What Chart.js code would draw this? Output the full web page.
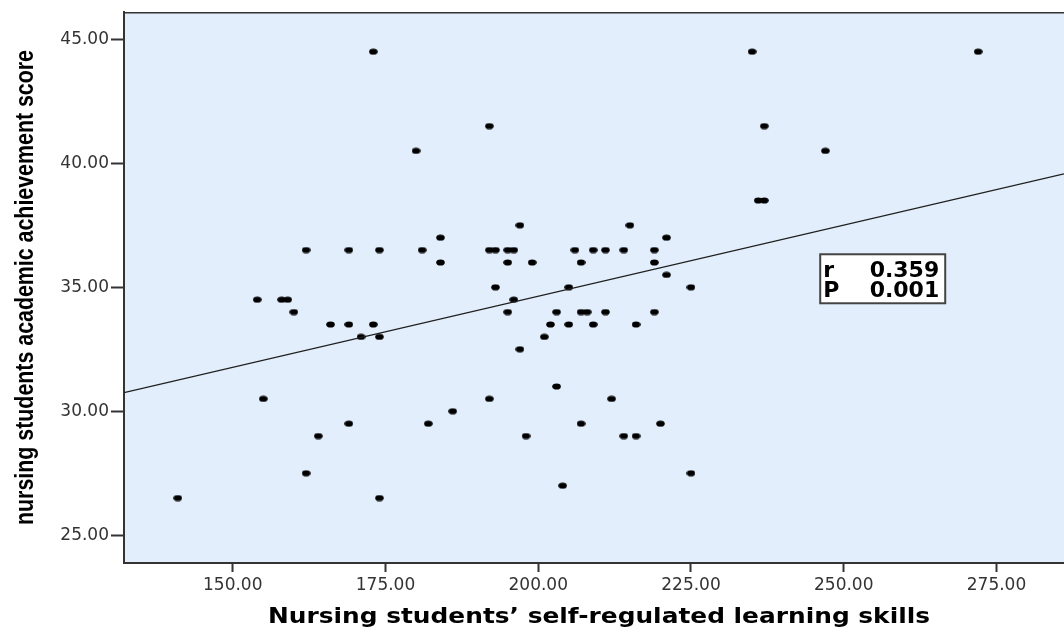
<!DOCTYPE html>
<html>
<head>
<meta charset="utf-8">
<script src="https://cdn.jsdelivr.net/npm/chart.js@4.4.1/dist/chart.umd.min.js"></script>
<style>
  html, body { margin: 0; padding: 0; background: #fff; }
  canvas { display: block; }
</style>
</head>
<body>
<canvas id="scatter" width="1064" height="630"></canvas>
<script>
// Self-regulated learning skills (x) vs academic achievement score (y)
const skillScores = [
  173, 235, 272, 192, 237, 180, 247, 236, 237, 197, 215, 184, 221,
  162, 169, 174, 181, 192, 193, 195, 196, 206, 209, 211, 214, 219,
  184, 195, 199, 207, 219,
  221,
  193, 205, 225,
  154, 158, 159, 196,
  160, 195, 203, 207, 208, 211, 219,
  166, 169, 173, 202, 205, 209, 216,
  171, 174, 201,
  197,
  203,
  155, 192, 212,
  186,
  169, 182, 207, 220,
  164, 198, 214, 216,
  162, 225,
  204,
  141, 174,
];
const achievementScores = [
  44.5, 44.5, 44.5, 41.5, 41.5, 40.5, 40.5, 38.5, 38.5, 37.5, 37.5, 37, 37,
  36.5, 36.5, 36.5, 36.5, 36.5, 36.5, 36.5, 36.5, 36.5, 36.5, 36.5, 36.5, 36.5,
  36, 36, 36, 36, 36,
  35.5,
  35, 35, 35,
  34.5, 34.5, 34.5, 34.5,
  34, 34, 34, 34, 34, 34, 34,
  33.5, 33.5, 33.5, 33.5, 33.5, 33.5, 33.5,
  33, 33, 33,
  32.5,
  31,
  30.5, 30.5, 30.5,
  30,
  29.5, 29.5, 29.5, 29.5,
  29, 29, 29, 29,
  27.5, 27.5,
  27,
  26.5, 26.5,
];

// fit line end points
const fitX = [132.2, 286.05];
const fitY = [30.75, 39.57];

const xTicks = [150, 175, 200, 225, 250, 275];
const yTicks = [25, 30, 35, 40, 45];

const xTitle = 'Nursing students’ self-regulated learning skills';
const yTitle = 'nursing students academic achievement score';

const statLabels = ['r', 'P'];
const statValues = ['0.359', '0.001'];
const statAnchor = { x: 246.15, y: 36.33 };

const plotBg = '#e2eefb';
const axisColor = '#333';

// flattened SPSS-style marker
const dot = document.createElement('canvas');
dot.width = 9;
dot.height = 7;
const dctx = dot.getContext('2d');
dctx.fillStyle = '#000';
dctx.beginPath();
dctx.ellipse(4.5, 3.5, 4.3, 3.1, 0, 0, Math.PI * 2);
dctx.fill();

// draws text centred on (cx, baseline) squeezed/stretched to a given length
const fitText = (c, text, cx, base, length, rotation) => {
  const w = c.measureText(text).width;
  c.save();
  c.translate(cx, base);
  c.rotate(rotation);
  c.scale(length / w, 1);
  c.textAlign = 'center';
  c.textBaseline = 'alphabetic';
  c.fillText(text, 0, 0);
  c.restore();
};

const plotFrame = {
  id: 'plotFrame',
  beforeDraw(c) {
    const { ctx, chartArea: a } = c;
    ctx.save();
    ctx.fillStyle = plotBg;
    ctx.fillRect(a.left, a.top, a.right - a.left, a.bottom - a.top);
    ctx.strokeStyle = axisColor;
    ctx.lineWidth = 1.5;
    ctx.beginPath();
    ctx.moveTo(a.left, a.top + 0.75);
    ctx.lineTo(a.right, a.top + 0.75);
    ctx.stroke();
    ctx.restore();
  },
  afterDraw(c) {
    const { ctx, chartArea: a } = c;
    // axis titles
    ctx.save();
    ctx.fillStyle = '#000';
    ctx.font = "bold 21px 'DejaVu Sans'";
    fitText(ctx, xTitle, 599, 623, 662, 0);
    ctx.font = "bold 26px 'Liberation Sans'";
    fitText(ctx, yTitle, 33, (a.top + a.bottom) / 2, 475, -Math.PI / 2);
    ctx.restore();

    // r / P box
    const bx = c.scales.x.getPixelForValue(statAnchor.x);
    const by = c.scales.y.getPixelForValue(statAnchor.y);
    const w = 125;
    const h = 49;
    ctx.save();
    ctx.fillStyle = '#fff';
    ctx.fillRect(bx, by, w, h);
    ctx.strokeStyle = '#444';
    ctx.lineWidth = 2;
    ctx.strokeRect(bx, by, w, h);
    ctx.fillStyle = '#000';
    ctx.font = "bold 22px 'DejaVu Sans'";
    ctx.textBaseline = 'alphabetic';
    statLabels.forEach((lab, i) => {
      const y = by + 22.5 + i * 20;
      ctx.textAlign = 'left';
      ctx.fillText(lab, bx + 3, y);
      ctx.textAlign = 'right';
      ctx.fillText(statValues[i], bx + w - 6, y);
    });
    ctx.restore();
  },
};

const ctx = document.getElementById('scatter');
// eslint-disable-next-line no-unused-vars
const chart = new Chart(ctx, {
  type: 'scatter',
  data: {
    datasets: [
      {
        label: 'Fit',
        data: fitX.map((x, i) => ({ x, y: fitY[i] })),
        showLine: true,
        borderColor: '#1e1e1e',
        borderWidth: 1.3,
        pointRadius: 0,
      },
      {
        label: 'Students',
        data: skillScores.map((x, i) => ({ x, y: achievementScores[i] })),
        pointStyle: dot,
        pointRadius: 4,
        backgroundColor: '#000',
      },
    ],
  },
  options: {
    responsive: false,
    animation: false,
    layout: {
      autoPadding: false,
      padding: { top: 12, right: 0, bottom: 0, left: 0 },
    },
    scales: {
      x: {
        type: 'linear',
        min: fitX[0],
        max: fitX[1],
        afterBuildTicks: (scale) => { scale.ticks = xTicks.map((value) => ({ value })); },
        afterFit: (scale) => {
          scale.height = 67;
          scale.paddingLeft = 0;
          scale.paddingRight = 0;
        },
        grid: {
          drawOnChartArea: false,
          tickLength: 9,
          tickWidth: 2,
          tickColor: axisColor,
        },
        border: { color: axisColor, width: 2 },
        ticks: {
          color: '#333',
          padding: 3,
          font: { family: "'DejaVu Sans'", size: 17 },
          callback: (v) => v.toFixed(2),
        },
      },
      y: {
        type: 'linear',
        min: 23.88,
        max: 46.1,
        afterBuildTicks: (scale) => { scale.ticks = yTicks.map((value) => ({ value })); },
        afterFit: (scale) => {
          scale.width = 124;
          scale.paddingTop = 0;
          scale.paddingBottom = 0;
        },
        grid: {
          drawOnChartArea: false,
          tickLength: 13,
          tickWidth: 2,
          tickColor: axisColor,
        },
        border: { color: axisColor, width: 2 },
        ticks: {
          color: '#333',
          padding: 2,
          font: { family: "'DejaVu Sans'", size: 17 },
          callback: (v) => v.toFixed(2),
        },
      },
    },
    plugins: {
      legend: { display: false },
      tooltip: { enabled: false },
    },
  },
  plugins: [plotFrame],
});
</script>
</body>
</html>
